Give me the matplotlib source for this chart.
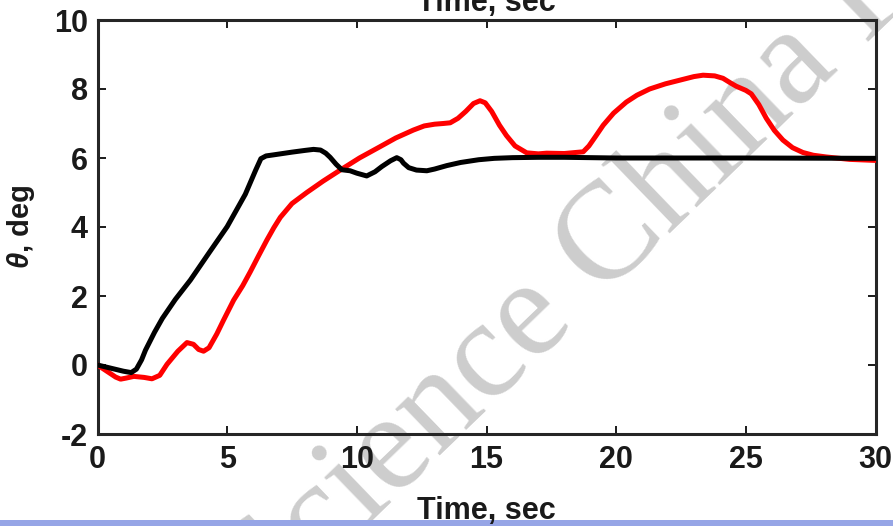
import matplotlib
matplotlib.use('Agg')
import matplotlib.pyplot as plt
from matplotlib.patches import Rectangle

# black curve
t_black = [0, 0.5, 1.0, 1.3, 1.5, 1.7, 1.85, 2.2, 2.5, 3.0, 3.58, 4.3, 5.0, 5.7, 6.1, 6.3,
           6.5, 6.78, 7.5, 8.0, 8.33, 8.6, 8.8, 8.97, 9.2, 9.42, 9.74, 10.0, 10.38, 10.7,
           10.96, 11.3, 11.54, 11.7, 11.8, 12.0, 12.3, 12.7, 13.0, 13.47, 14.0, 14.7,
           15.3, 16.0, 17, 18, 20, 25, 30]
theta_black = [0, -0.09, -0.18, -0.22, -0.12, 0.15, 0.43, 0.95, 1.35, 1.9, 2.46, 3.25,
               4.01, 4.95, 5.65, 5.98, 6.06, 6.09, 6.17, 6.22, 6.25, 6.23, 6.14, 6.02,
               5.82, 5.66, 5.63, 5.56, 5.48, 5.6, 5.75, 5.92, 6.01, 5.95, 5.85, 5.72,
               5.65, 5.63, 5.68, 5.78, 5.87, 5.95, 5.99, 6.01, 6.02, 6.02, 6.0, 6.0, 5.99]

# red curve
t_red = [0, 0.4, 0.7, 0.89, 1.1, 1.4, 1.8, 2.1, 2.4, 2.68, 3.1, 3.45, 3.7, 3.9, 4.09, 4.3,
         4.6, 4.86, 5.25, 5.6, 5.89, 6.2, 6.53, 6.8, 7.05, 7.5, 8.07, 8.7, 9.36, 10.1,
         10.9, 11.5, 12.18, 12.6, 13.0, 13.33, 13.6, 13.9, 14.2, 14.5, 14.75, 14.95,
         15.2, 15.5, 15.77, 16.1, 16.55, 17.0, 17.32, 18.0, 18.73, 18.95, 19.2, 19.5,
         19.9, 20.39, 20.8, 21.29, 21.9, 22.58, 23.0, 23.35, 23.8, 24.12, 24.4, 24.63,
         25.0, 25.21, 25.5, 25.79, 26.1, 26.43, 26.8, 27.2, 27.6, 28.1, 29, 30]
theta_red = [0, -0.2, -0.35, -0.41, -0.38, -0.33, -0.36, -0.4, -0.3, 0.02, 0.4, 0.65,
             0.6, 0.45, 0.4, 0.5, 0.9, 1.3, 1.88, 2.3, 2.7, 3.15, 3.62, 3.98, 4.28, 4.68,
             5.0, 5.33, 5.65, 6.0, 6.33, 6.58, 6.81, 6.93, 6.98, 7.0, 7.02, 7.15, 7.35,
             7.58, 7.66, 7.6, 7.35, 6.95, 6.65, 6.35, 6.15, 6.12, 6.14, 6.13, 6.18, 6.35,
             6.62, 6.95, 7.3, 7.62, 7.82, 8.0, 8.15, 8.28, 8.36, 8.4, 8.38, 8.31, 8.18,
             8.08, 7.96, 7.86, 7.55, 7.15, 6.8, 6.52, 6.3, 6.16, 6.08, 6.03, 5.96, 5.93]

x_ticks = [0, 5, 10, 15, 20, 25, 30]
y_ticks = [-2, 0, 2, 4, 6, 8, 10]

plt.rcParams['font.family'] = 'Liberation Sans'
plt.rcParams['font.weight'] = 'bold'
plt.rcParams['axes.unicode_minus'] = False
plt.rcParams['mathtext.fontset'] = 'custom'
plt.rcParams['mathtext.it'] = 'Liberation Sans:italic:bold'

fig = plt.figure(figsize=(8.93, 5.26), dpi=100)
ax = fig.add_axes([97.5 / 893, 1 - 434 / 526, 778 / 893, 414 / 526])
ax.patch.set_visible(False)

# watermark behind the axes
fig.text(266 / 893, 1 - 623 / 526, 'Science China Press', family='Liberation Serif',
         fontweight='normal', fontsize=100, color='#cdcdcd', rotation=44,
         rotation_mode='anchor', ha='left', va='baseline', zorder=-2)
# blue strip at the very bottom
fig.patches.append(Rectangle((0, 0), 1, 6 / 526, transform=fig.transFigure,
                             facecolor='#96a5e6', edgecolor='none', zorder=-1))

ax.plot(t_red, theta_red, color='#ff0000', lw=3.6, zorder=3)
ax.plot(t_black, theta_black, color='black', lw=3.6, zorder=4)

ax.set_xlim(0, 30)
ax.set_ylim(-2, 10)
ax.set_xticks(x_ticks)
ax.set_yticks(y_ticks)
ax.tick_params(direction='in', length=6, width=1.4, top=True, right=True,
               labelsize=22, colors='#1a1a1a')
ax.tick_params(axis='x', pad=8)
ax.tick_params(axis='y', pad=7)
for s in ax.spines.values():
    s.set_linewidth(2.2)
    s.set_color('#262626')

ax.set_title('Time, sec', fontsize=22, fontweight='bold', color='#1a1a1a', pad=6.5)
ax.set_xlabel('Time, sec', fontsize=22, fontweight='bold', color='#1a1a1a')
ax.xaxis.label.set_va('baseline')
ax.xaxis.set_label_coords(0.5, -(519 - 434) / 414)
ax.set_ylabel(r'$\theta$, deg', fontsize=21, fontweight='bold', color='#1a1a1a')
ax.yaxis.set_label_coords(-0.078, 0.5)

fig.savefig('out.png', dpi=100)
